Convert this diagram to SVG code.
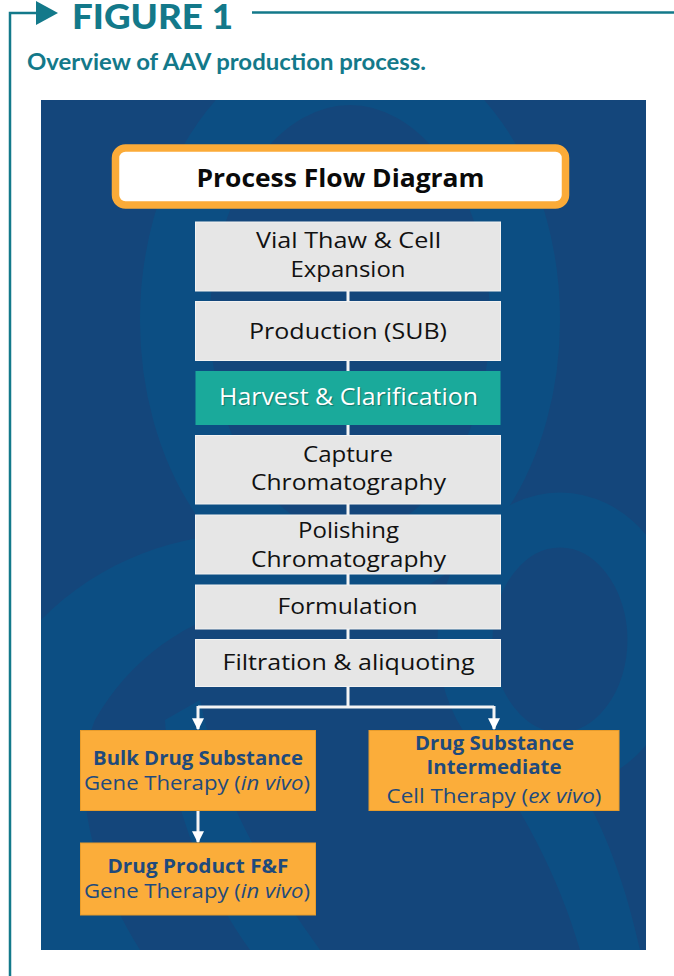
<svg xmlns="http://www.w3.org/2000/svg" width="674" height="976" viewBox="0 0 674 976">
<defs>
<style>
.hdr{fill:#13798a;font-family:Lato,"Open Sans",sans-serif;font-weight:900}
.frame{stroke:#13798a;stroke-width:2.5;fill:none}
.gbox{fill:#e6e6e6;stroke:#f2f2f2;stroke-width:1}
.gt{font-family:"Open Sans","Noto Sans",sans-serif;font-size:22px;fill:#111;text-anchor:middle}
.wt{font-family:"Open Sans","Noto Sans",sans-serif;font-size:23px;fill:#fff;text-anchor:middle}
.obox{fill:#fbad3a;stroke:#e79c2c;stroke-width:1}
.ob{font-family:"Open Sans","Noto Sans",sans-serif;font-size:19px;font-weight:700;fill:#1f4a7c;text-anchor:middle}
.or{font-family:"Open Sans","Noto Sans",sans-serif;font-size:19.5px;fill:#1f4a7c;text-anchor:middle}
.conn{stroke:#f4f4f4;stroke-width:3;fill:none}
.swirl{fill:none;stroke:#0a5186}
</style>
<marker id="ah" viewBox="0 0 10 10" refX="9" refY="5" markerWidth="4" markerHeight="4" orient="auto" markerUnits="strokeWidth">
<path d="M0,0 L10,5 L0,10 z" fill="#ffffff"/>
</marker>
<clipPath id="pc"><rect x="41" y="100" width="605" height="850"/></clipPath>
</defs>

<!-- header -->
<g id="header">
<path class="frame" d="M10,976 V13 H38"/>
<polygon points="36,1 58,13 36,25" fill="#13798a"/>
<text class="hdr" x="72" y="29" font-size="34" textLength="161" lengthAdjust="spacingAndGlyphs">FIGURE 1</text>
<line class="frame" x1="252" y1="12.5" x2="674" y2="12.5"/>
<text x="27" y="70" fill="#13798a" font-family="Lato,'Open Sans',sans-serif" font-weight="700" font-size="22" textLength="399" lengthAdjust="spacingAndGlyphs">Overview of AAV production process.</text>
</g>

<!-- panel -->
<g id="panel">
<rect x="41" y="100" width="605" height="850" fill="#15467b"/>
<g clip-path="url(#pc)">
<ellipse class="swirl" cx="350" cy="320" rx="175" ry="250" stroke-width="70"/>
<path d="M41,620 C120,540 230,520 330,540 L330,600 C230,590 140,640 95,720 C70,780 90,870 140,950 L41,950 Z" fill="#0a5186"/>
<path d="M200,700 C220,800 270,880 320,950 L250,950 C200,880 170,800 165,720 Z" fill="#0a5186"/>
<ellipse class="swirl" cx="560" cy="640" rx="95" ry="120" stroke-width="55"/>
<path d="M470,740 C520,800 560,880 580,950 L640,950 C620,860 590,790 540,730 Z" fill="#0a5186"/>
<rect x="41" y="100" width="605" height="850" fill="#15467b" opacity="0.25"/>
</g>
</g>

<!-- connectors -->
<g id="connectors">
<line class="conn" x1="348" y1="290" x2="348" y2="302"/>
<line class="conn" x1="348" y1="360" x2="348" y2="372"/>
<line class="conn" x1="348" y1="424" x2="348" y2="436"/>
<line class="conn" x1="348" y1="504" x2="348" y2="515"/>
<line class="conn" x1="348" y1="574" x2="348" y2="585"/>
<line class="conn" x1="348" y1="629" x2="348" y2="640"/>
<path class="conn" d="M348,686 V707"/>
<path class="conn" d="M198,707 H494"/>
<path class="conn" d="M198,706 V729" marker-end="url(#ah)"/>
<path class="conn" d="M494,706 V729" marker-end="url(#ah)"/>
<path class="conn" d="M198,811 V842" marker-end="url(#ah)"/>
</g>

<!-- title -->
<g id="title">
<rect x="115.5" y="148" width="450" height="57" rx="10" fill="#ffffff" stroke="#fbab38" stroke-width="7.5"/>
<text x="340.5" y="186.5" font-family="'Open Sans','Noto Sans',sans-serif" font-weight="700" font-size="25.5" fill="#0a0a0a" text-anchor="middle" textLength="288" lengthAdjust="spacingAndGlyphs">Process Flow Diagram</text>
</g>

<g id="n1"><rect class="gbox" x="195.5" y="222" width="305" height="69"/>
<text class="gt" x="348.5" y="248" textLength="185" lengthAdjust="spacingAndGlyphs">Vial Thaw &amp; Cell</text>
<text class="gt" x="348" y="277" textLength="115" lengthAdjust="spacingAndGlyphs">Expansion</text></g>

<g id="n2"><rect class="gbox" x="195.5" y="301.5" width="305" height="59"/>
<text class="gt" x="348" y="339" font-size="23" textLength="198" lengthAdjust="spacingAndGlyphs">Production (SUB)</text></g>

<g id="n3"><rect x="195.5" y="371" width="305" height="54" fill="#1aaa9b"/>
<text class="wt" x="348.5" y="405" textLength="259" lengthAdjust="spacingAndGlyphs" style="text-shadow:1px 1px 1px rgba(0,0,0,0.3)">Harvest &amp; Clarification</text></g>

<g id="n4"><rect class="gbox" x="195.5" y="435.5" width="305" height="68.5"/>
<text class="gt" x="348" y="462" textLength="90" lengthAdjust="spacingAndGlyphs">Capture</text>
<text class="gt" x="348.5" y="490" textLength="195" lengthAdjust="spacingAndGlyphs">Chromatography</text></g>

<g id="n5"><rect class="gbox" x="195.5" y="515" width="305" height="59"/>
<text class="gt" x="348.5" y="538" textLength="101" lengthAdjust="spacingAndGlyphs">Polishing</text>
<text class="gt" x="348.5" y="567" textLength="195" lengthAdjust="spacingAndGlyphs">Chromatography</text></g>

<g id="n6"><rect class="gbox" x="195.5" y="585" width="305" height="44"/>
<text class="gt" x="347.5" y="614" font-size="23" textLength="140" lengthAdjust="spacingAndGlyphs">Formulation</text></g>

<g id="n7"><rect class="gbox" x="195.5" y="639.5" width="305" height="47"/>
<text class="gt" x="348.5" y="670" font-size="23" textLength="252" lengthAdjust="spacingAndGlyphs">Filtration &amp; aliquoting</text></g>

<g id="n8"><rect class="obox" x="80.5" y="730.5" width="235" height="80"/>
<text class="ob" x="198" y="765" textLength="210" lengthAdjust="spacingAndGlyphs">Bulk Drug Substance</text>
<text class="or" x="197" y="790" textLength="226" lengthAdjust="spacingAndGlyphs">Gene Therapy (<tspan font-style="italic">in vivo</tspan>)</text></g>

<g id="n9"><rect class="obox" x="369" y="730.5" width="250" height="80"/>
<text class="ob" x="494.5" y="750" textLength="159" lengthAdjust="spacingAndGlyphs">Drug Substance</text>
<text class="ob" x="494" y="774" textLength="135" lengthAdjust="spacingAndGlyphs">Intermediate</text>
<text class="or" x="494" y="803" textLength="215" lengthAdjust="spacingAndGlyphs">Cell Therapy (<tspan font-style="italic">ex vivo</tspan>)</text></g>

<g id="n10"><rect class="obox" x="80.5" y="843" width="235" height="72"/>
<text class="ob" x="198" y="873" textLength="181" lengthAdjust="spacingAndGlyphs">Drug Product F&amp;F</text>
<text class="or" x="197" y="898" textLength="226" lengthAdjust="spacingAndGlyphs">Gene Therapy (<tspan font-style="italic">in vivo</tspan>)</text></g>
</svg>
